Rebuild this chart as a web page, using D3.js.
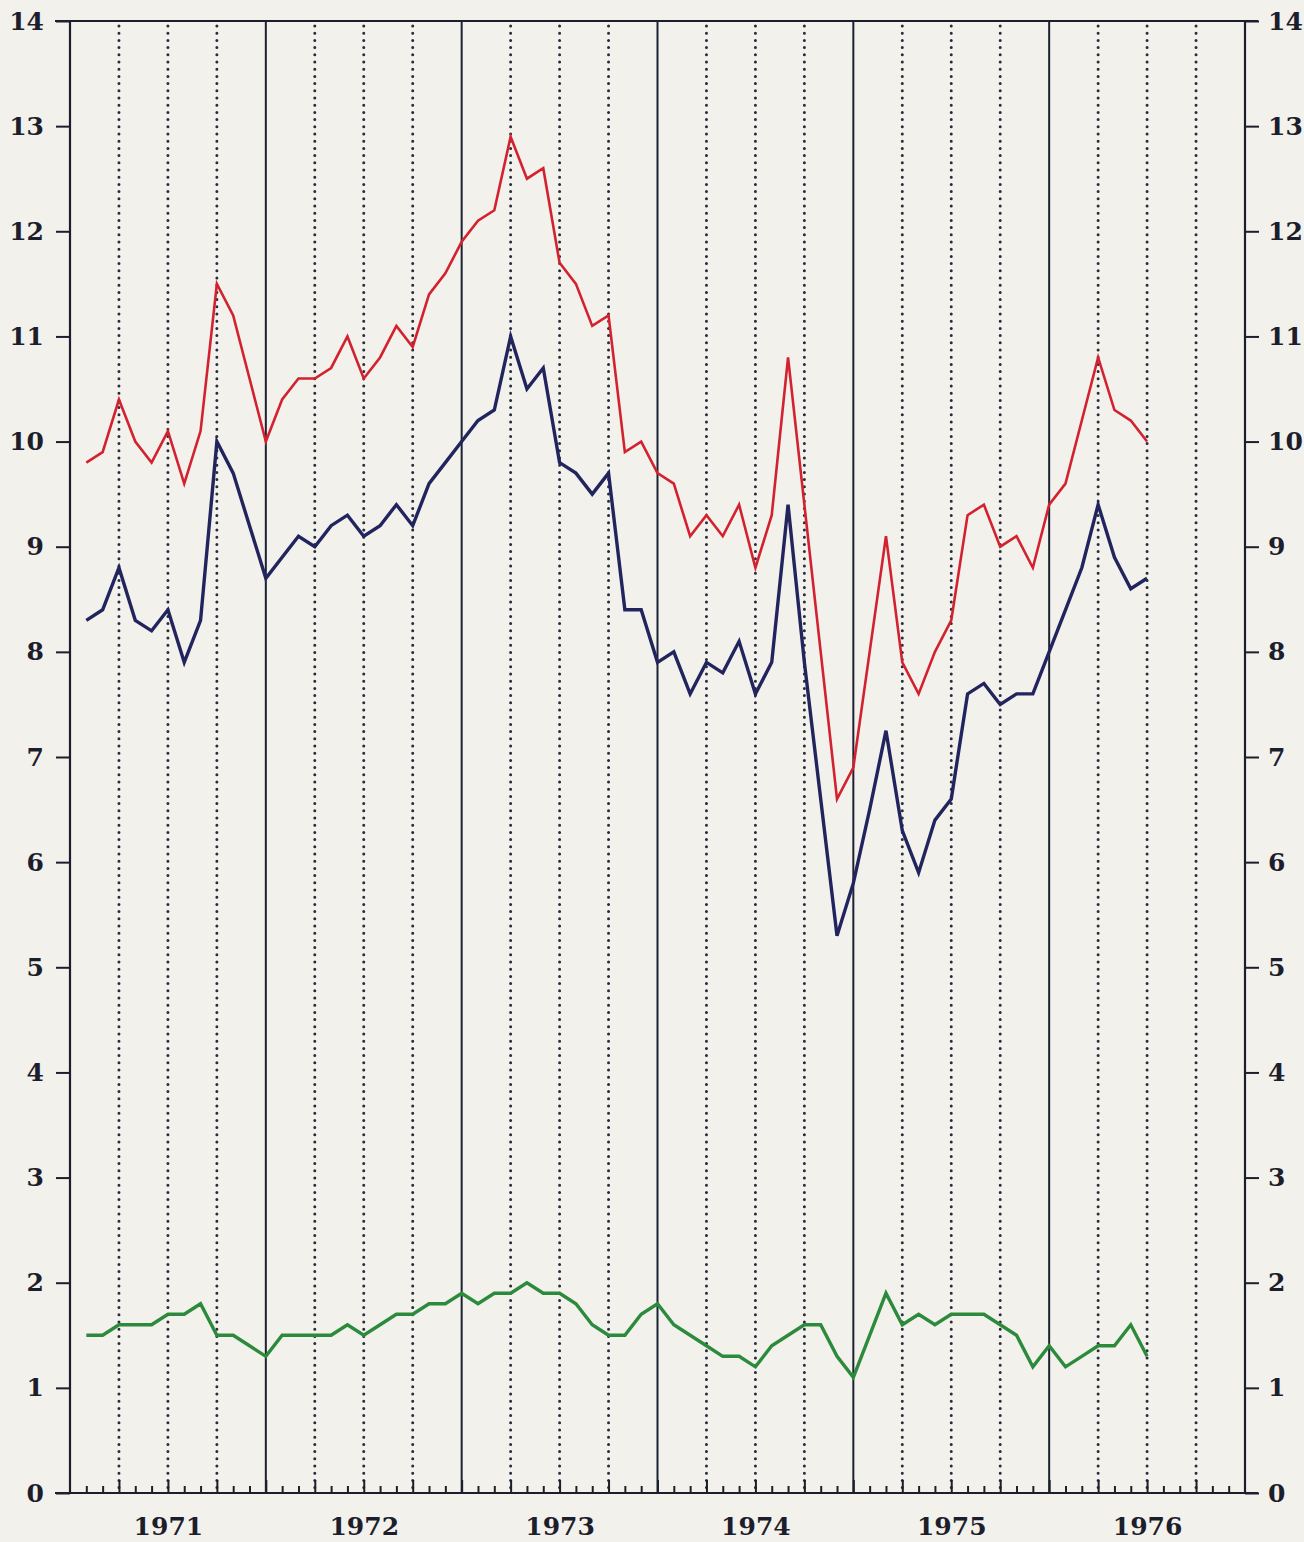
<!DOCTYPE html>
<html>
<head>
<meta charset="utf-8">
<script src="https://cdn.jsdelivr.net/npm/d3@7"></script>
<style>
  html, body { margin: 0; padding: 0; background: #f3f1ec; }
  #main svg { display: block; }
</style>
</head>
<body>
<div id="main"></div>
<script>
const ctx = {
    w: 1304,
    h: 1542,
    left: 70,
    right: 1245,
    top: 21,
    bottom: 1493,
    font: "'DejaVu Serif', 'Liberation Serif', serif",
    ink: "#1c1e2c"
};

// monthly values, Jan 1971 .. Jun 1976 (plotted at month end)
const YEARS = ["1971", "1972", "1973", "1974", "1975", "1976"];
const Y_TICKS = [0, 1, 2, 3, 4, 5, 6, 7, 8, 9, 10, 11, 12, 13, 14];

const RED = [
    9.8, 9.9, 10.4, 10.0, 9.8, 10.1, 9.6, 10.1, 11.5, 11.2, 10.6, 10.0,
    10.4, 10.6, 10.6, 10.7, 11.0, 10.6, 10.8, 11.1, 10.9, 11.4, 11.6, 11.9,
    12.1, 12.2, 12.9, 12.5, 12.6, 11.7, 11.5, 11.1, 11.2, 9.9, 10.0, 9.7,
    9.6, 9.1, 9.3, 9.1, 9.4, 8.8, 9.3, 10.8, 9.4, 8.0, 6.6, 6.9,
    8.0, 9.1, 7.9, 7.6, 8.0, 8.3, 9.3, 9.4, 9.0, 9.1, 8.8, 9.4,
    9.6, 10.2, 10.8, 10.3, 10.2, 10.0
];
const BLUE = [
    8.3, 8.4, 8.8, 8.3, 8.2, 8.4, 7.9, 8.3, 10.0, 9.7, 9.2, 8.7,
    8.9, 9.1, 9.0, 9.2, 9.3, 9.1, 9.2, 9.4, 9.2, 9.6, 9.8, 10.0,
    10.2, 10.3, 11.0, 10.5, 10.7, 9.8, 9.7, 9.5, 9.7, 8.4, 8.4, 7.9,
    8.0, 7.6, 7.9, 7.8, 8.1, 7.6, 7.9, 9.4, 7.9, 6.6, 5.3, 5.8,
    6.5, 7.25, 6.3, 5.9, 6.4, 6.6, 7.6, 7.7, 7.5, 7.6, 7.6, 8.0,
    8.4, 8.8, 9.4, 8.9, 8.6, 8.7
];
const GREEN = [
    1.5, 1.5, 1.6, 1.6, 1.6, 1.7, 1.7, 1.8, 1.5, 1.5, 1.4, 1.3,
    1.5, 1.5, 1.5, 1.5, 1.6, 1.5, 1.6, 1.7, 1.7, 1.8, 1.8, 1.9,
    1.8, 1.9, 1.9, 2.0, 1.9, 1.9, 1.8, 1.6, 1.5, 1.5, 1.7, 1.8,
    1.6, 1.5, 1.4, 1.3, 1.3, 1.2, 1.4, 1.5, 1.6, 1.6, 1.3, 1.1,
    1.5, 1.9, 1.6, 1.7, 1.6, 1.7, 1.7, 1.7, 1.6, 1.5, 1.2, 1.4,
    1.2, 1.3, 1.4, 1.4, 1.6, 1.3
];

const SERIES = [
    {name: "red", values: RED, color: "#d3222f", width: 2.6},
    {name: "blue", values: BLUE, color: "#22245e", width: 3.4},
    {name: "green", values: GREEN, color: "#2b8a3b", width: 3.4}
];

// x in months since Jan 1971
const x = d3.scaleLinear().domain([0, YEARS.length * 12]).range([ctx.left, ctx.right]);
const y = d3.scaleLinear().domain([0, 14]).range([ctx.bottom, ctx.top]);

function drawGrid(svgEl){
    let months = d3.range(1, YEARS.length * 12);
    let grid = svgEl.append("g").attr("id", "grid");
    // dotted quarter lines
    grid.selectAll("line.quarter")
        .data(months.filter(m => m % 3 == 0 && m % 12 != 0))
        .enter()
        .append("line")
        .attr("class", "quarter")
        .attr("x1", d => x(d)).attr("x2", d => x(d))
        .attr("y1", y(14) + 5).attr("y2", y(0))
        .attr("stroke", "#262c3c")
        .attr("stroke-width", 3)
        .attr("stroke-linecap", "round")
        .attr("stroke-dasharray", "0,7.2");
    // solid year lines
    grid.selectAll("line.year")
        .data(months.filter(m => m % 12 == 0))
        .enter()
        .append("line")
        .attr("class", "year")
        .attr("x1", d => x(d)).attr("x2", d => x(d))
        .attr("y1", y(14)).attr("y2", y(0))
        .attr("stroke", "#1b2233")
        .attr("stroke-width", 2);
}

function styleAxis(g){
    g.select(".domain").remove();
    g.selectAll(".tick line").attr("stroke", ctx.ink).attr("stroke-width", 2);
    g.selectAll(".tick text")
     .attr("fill", ctx.ink)
     .style("font-family", ctx.font)
     .style("font-weight", "bold")
     .style("font-size", "25px");
}

function drawAxes(svgEl){
    let axes = svgEl.append("g").attr("id", "axes");

    // month ticks standing on the baseline
    let months = d3.range(1, YEARS.length * 12);
    axes.append("g")
        .attr("transform", `translate(0,${y(0)})`)
        .call(d3.axisTop(x).tickValues(months.filter(m => m % 3 != 0)).tickSize(7).tickFormat(""))
        .call(styleAxis);
    axes.append("g")
        .attr("transform", `translate(0,${y(0)})`)
        .call(d3.axisTop(x).tickValues(months.filter(m => m % 3 == 0)).tickSize(13).tickFormat(""))
        .call(styleAxis);

    // year labels centred in each year
    axes.append("g")
        .attr("transform", `translate(0,${y(0)})`)
        .call(d3.axisBottom(x).tickValues(YEARS.map((d, i) => i * 12 + 6))
                .tickSize(0).tickPadding(24).tickFormat((d, i) => YEARS[i]))
        .call(styleAxis);

    axes.append("g")
        .attr("transform", `translate(${ctx.left},0)`)
        .call(d3.axisLeft(y).tickValues(Y_TICKS).tickSize(14).tickPadding(12).tickFormat(d3.format("d")))
        .call(styleAxis);
    axes.append("g")
        .attr("transform", `translate(${ctx.right},0)`)
        .call(d3.axisRight(y).tickValues(Y_TICKS).tickSize(14).tickPadding(9).tickFormat(d3.format("d")))
        .call(styleAxis);

    // frame: side axes, top line and baseline
    axes.append("line")
        .attr("x1", ctx.left).attr("x2", ctx.left)
        .attr("y1", y(14)).attr("y2", y(0))
        .attr("stroke", ctx.ink).attr("stroke-width", 2.2);
    axes.append("line")
        .attr("x1", ctx.right).attr("x2", ctx.right)
        .attr("y1", y(14)).attr("y2", y(0))
        .attr("stroke", ctx.ink).attr("stroke-width", 2.2);
    axes.append("line")
        .attr("x1", ctx.left - 15).attr("x2", ctx.right + 13)
        .attr("y1", y(14)).attr("y2", y(14))
        .attr("stroke", ctx.ink).attr("stroke-width", 2.2);
    axes.append("line")
        .attr("x1", ctx.left - 15).attr("x2", ctx.right + 13)
        .attr("y1", y(0)).attr("y2", y(0))
        .attr("stroke", ctx.ink).attr("stroke-width", 2.2);
}

function drawLines(svgEl){
    let line = d3.line()
        .x((d, i) => x(i + 1))
        .y(d => y(d));
    svgEl.append("g")
        .attr("id", "series")
        .selectAll("path")
        .data(SERIES)
        .enter()
        .append("path")
        .attr("d", d => line(d.values))
        .attr("fill", "none")
        .attr("stroke", d => d.color)
        .attr("stroke-width", d => d.width)
        .attr("stroke-linejoin", "miter");
}

function createViz(){
    let svgEl = d3.select("#main").append("svg");
    svgEl.attr("width", ctx.w);
    svgEl.attr("height", ctx.h);
    svgEl.append("rect")
         .attr("x", 0)
         .attr("y", 0)
         .attr("width", "100%")
         .attr("height", "100%")
         .attr("fill", "#f3f1ec");
    drawGrid(svgEl);
    drawLines(svgEl);
    drawAxes(svgEl);
}

createViz();
</script>
</body>
</html>
